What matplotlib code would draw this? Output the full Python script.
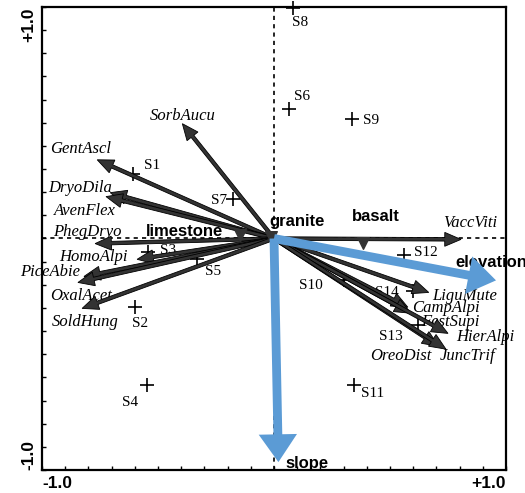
import numpy as np
import matplotlib
matplotlib.use("Agg")
import matplotlib.pyplot as plt

# site scores
sites = ["S1", "S2", "S3", "S4", "S5", "S6", "S7", "S8", "S9", "S10", "S11", "S12", "S13", "S14"]
site_x = [-0.607, -0.598, -0.542, -0.546, -0.330, 0.063, -0.175, 0.084, 0.335, 0.300, 0.344, 0.559, 0.620, 0.598]
site_y = [0.280, -0.297, -0.060, -0.634, -0.090, 0.560, 0.172, 0.995, 0.517, -0.180, -0.634, -0.073, -0.375, -0.228]

# species arrows
species = ["SorbAucu", "GentAscl", "DryoDila", "AvenFlex", "PhegDryo", "HomoAlpi", "PiceAbie",
           "OxalAcet", "SoldHung", "VaccViti", "LiguMute", "CampAlpi", "FestSupi", "HierAlpi",
           "OreoDist", "JuncTrif"]
spec_x = [-0.395, -0.762, -0.706, -0.724, -0.771, -0.590, -0.819, -0.845, -0.827, 0.806,
          0.667, 0.577, 0.590, 0.750, 0.710, 0.741]
spec_y = [0.496, 0.340, 0.198, 0.181, -0.022, -0.090, -0.164, -0.190, -0.302, -0.004,
          -0.233, -0.297, -0.323, -0.410, -0.466, -0.478]

# nominal environmental variables (centroids)
nominal = ["limestone", "granite", "basalt"]
nom_x = [-0.145, -0.015, 0.382]
nom_y = [0.015, 0.008, -0.020]

# quantitative environmental variables
env = ["elevation", "slope"]
env_x = [0.957, 0.019]
env_y = [-0.181, -0.966]

# label offsets in pixels (dx, dy)
site_off = {"S1": (19, 8), "S2": (5, -16), "S3": (20, 2), "S4": (-17, -17), "S5": (16, -12),
            "S6": (13, 12), "S7": (-14, -2), "S8": (7, -14), "S9": (19, -2), "S10": (-33, -5),
            "S11": (19, -8), "S12": (22, 3), "S13": (-27, -11), "S14": (-26, -1)}
spec_off = {"SorbAucu": (0, 8), "GentAscl": (-17, 11), "DryoDila": (-30, 5), "AvenFlex": (-21, -14),
            "PhegDryo": (-8, 12), "HomoAlpi": (-44, 2), "PiceAbie": (-34, 4), "OxalAcet": (3, -14),
            "SoldHung": (3, -14), "VaccViti": (9, 16), "LiguMute": (36, -4), "CampAlpi": (38, -1),
            "FestSupi": (39, -9), "HierAlpi": (37, -4), "OreoDist": (-38, -10), "JuncTrif": (22, -7)}
nom_off = {"limestone": (-56, 4), "granite": (27, 15), "basalt": (13, 27)}
env_off = {"elevation": (-5, 18), "slope": (29, -1)}

dark = "#333333"
blue = "#5b9bd5"
serif = "Liberation Serif"
sans = "Liberation Sans"

fig = plt.figure(figsize=(5.25, 4.93), dpi=100)
ax = fig.add_axes([0.08, 0.0467, 0.8838, 0.9391])
ax.set_xlim(-1, 1)
ax.set_ylim(-1, 1)

# dashed zero lines
ax.plot([0, 0], [-1, 1], color="black", lw=1.2, ls=(0, (2.5, 2.5)), zorder=1)
ax.plot([-1, 1], [0, 0], color="black", lw=1.2, ls=(0, (2.5, 2.5)), zorder=1)

# sites
ax.scatter(site_x, site_y, marker="+", s=100, color="black", linewidths=1.2, zorder=2, clip_on=False)
for name, x, y in zip(sites, site_x, site_y):
    ax.annotate(name, (x, y), xytext=site_off[name], textcoords="offset pixels",
                ha="center", va="center", fontsize=11, family=serif, zorder=2)

# species arrows
for name, x, y in zip(species, spec_x, spec_y):
    ax.arrow(0, 0, x, y, width=0.015, head_width=0.06, head_length=0.07,
             length_includes_head=True, color=dark, ec="black", lw=0.6, zorder=4)
    ax.annotate(name, (x, y), xytext=spec_off[name], textcoords="offset pixels",
                ha="center", va="center", fontsize=12, style="italic", family=serif, zorder=3)

# nominal centroids
ax.scatter(nom_x, nom_y, marker="v", s=70, color=dark, zorder=4)
for name, x, y in zip(nominal, nom_x, nom_y):
    ax.annotate(name, (x, y), xytext=nom_off[name], textcoords="offset pixels",
                ha="center", va="center", fontsize=12, weight="bold", family=sans, zorder=3)

# quantitative environmental arrows
for name, x, y in zip(env, env_x, env_y):
    ax.annotate(name, (x, y), xytext=env_off[name], textcoords="offset pixels",
                ha="center", va="center", fontsize=12, weight="bold", family=sans,
                zorder=3, annotation_clip=False)
    ax.arrow(0, 0, x, y, width=0.038, head_width=0.165, head_length=0.12,
             length_includes_head=True, color=blue, lw=0, zorder=6, clip_on=False)

# frame and ticks
for s in ax.spines.values():
    s.set_linewidth(1.6)
ax.set_xticks(np.arange(-1, 1.01, 0.1))
ax.set_yticks(np.arange(-1, 1.01, 0.1))
ax.tick_params(direction="in", length=3, width=1, labelbottom=False, labelleft=False)

tk = dict(fontsize=12.5, weight="bold", family=sans, transform=ax.transAxes)
ax.text(0.0, -0.012, "-1.0", ha="left", va="top", **tk)
ax.text(1.0, -0.012, "+1.0", ha="right", va="top", **tk)
ax.text(-0.012, 1.0, "+1.0", ha="right", va="top", rotation=90, **tk)
ax.text(-0.012, 0.0, "-1.0", ha="right", va="bottom", rotation=90, **tk)

fig.savefig("out.png", dpi=100)
